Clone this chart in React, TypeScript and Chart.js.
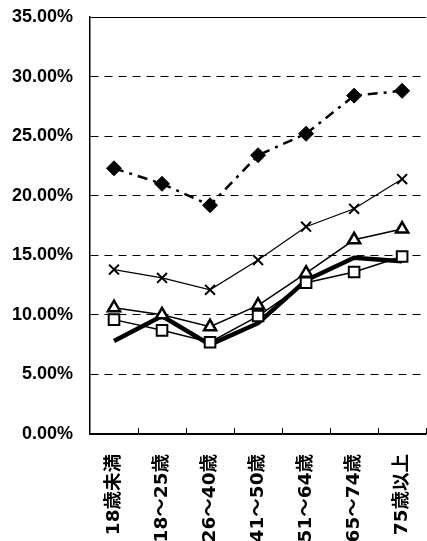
import React, { useEffect, useRef } from "react";
import { Chart, registerables } from "chart.js";

Chart.register(...registerables);

// Age groups along the x axis
const ageGroups = ["18歳未満", "18～25歳", "26～40歳", "41～50歳", "51～64歳", "65～74歳", "75歳以上"];

// Rates (%) per age group
const seriesDiamond = [22.3, 21.0, 19.2, 23.4, 25.2, 28.4, 28.8];
const seriesCross = [13.8, 13.1, 12.1, 14.6, 17.4, 18.9, 21.4];
const seriesTriangle = [10.6, 10.0, 9.0, 10.8, 13.5, 16.3, 17.2];
const seriesSquare = [9.6, 8.7, 7.7, 9.9, 12.7, 13.6, 14.9];
const seriesBold = [7.8, 9.9, 7.5, 9.3, 12.9, 14.8, 14.5];

// Y axis range and step
const yMin = 0;
const yMax = 35;
const yStep = 5;

const Y_FONT = "'Liberation Sans', Arial, sans-serif";
const X_FONT = "'DejaVu Sans', 'Noto Sans CJK JP', sans-serif";

// Short tick marks between categories, pointing up into the plot
const innerTicks = {
  id: "innerTicks",
  afterDraw(chart: any) {
    const x = chart.scales.x;
    const area = chart.chartArea;
    const ctx = chart.ctx;
    const n = ageGroups.length;
    const half = (x.getPixelForValue(1) - x.getPixelForValue(0)) / 2;
    ctx.save();
    ctx.strokeStyle = "#000";
    ctx.lineWidth = 1;
    ctx.beginPath();
    for (let i = 0; i < n; i++) {
      const px = Math.round(x.getPixelForValue(i) + half) + 0.5;
      ctx.moveTo(px, area.bottom);
      ctx.lineTo(px, area.bottom - 6);
    }
    ctx.stroke();
    ctx.restore();
  },
};

export default function App() {
  const ref = useRef<HTMLCanvasElement>(null);

  useEffect(() => {
    if (!ref.current) return;
    const chart = new Chart(ref.current, {
      type: "line",
      data: {
        labels: ageGroups,
        datasets: [
          {
            data: seriesDiamond,
            borderColor: "#000",
            backgroundColor: "#000",
            borderWidth: 2.5,
            borderDash: [10, 6, 3, 6],
            pointStyle: "rectRot",
            pointRadius: 7.5,
            pointBorderWidth: 1,
            pointBackgroundColor: "#000",
            tension: 0,
          },
          {
            data: seriesCross,
            borderColor: "#000",
            borderWidth: 1.2,
            pointStyle: "crossRot",
            pointRadius: 7,
            pointBorderWidth: 2,
            tension: 0,
          },
          {
            data: seriesTriangle,
            borderColor: "#000",
            borderWidth: 1.5,
            pointStyle: "triangle",
            pointRadius: 7,
            pointBorderWidth: 2.5,
            pointBackgroundColor: "#fff",
            tension: 0,
          },
          {
            data: seriesSquare,
            borderColor: "#000",
            borderWidth: 1.5,
            pointStyle: "rect",
            pointRadius: 7.5,
            pointBorderWidth: 2,
            pointBackgroundColor: "#fff",
            tension: 0,
          },
          {
            data: seriesBold,
            borderColor: "#000",
            borderWidth: 4.5,
            pointRadius: 0,
            tension: 0,
          },
        ],
      },
      options: {
        responsive: false,
        animation: false,
        layout: { padding: { top: 17, right: 8, left: 0, bottom: 0 } },
        plugins: {
          legend: { display: false },
          tooltip: { enabled: false },
        },
        scales: {
          x: {
            type: "category",
            offset: true,
            grid: { display: false, drawTicks: false },
            border: { display: true, color: "#000", width: 1.5 },
            ticks: {
              color: "#000",
              minRotation: 90,
              maxRotation: 90,
              autoSkip: false,
              padding: 20,
              font: { family: X_FONT, size: 18.5, weight: "bold" },
            },
            afterFit(scale: any) {
              scale.height = 107;
              scale.paddingTop = 0;
            },
          },
          y: {
            min: yMin,
            max: yMax,
            grid: {
              color: "#000",
              lineWidth: 1,
              drawTicks: false,
            },
            border: {
              display: true,
              color: "#000",
              width: 1.5,
              dash: (ctx: any) => (ctx.tick && ctx.tick.value !== yMax && ctx.tick.value !== yMin ? [8, 6] : []),
            },
            ticks: {
              stepSize: yStep,
              color: "#000",
              padding: 17,
              font: { family: Y_FONT, size: 18, weight: "bold" },
              callback: (v: any) => Number(v).toFixed(2) + "%",
            },
            afterFit(scale: any) {
              scale.width = 90;
              scale.paddingTop = 0;
              scale.paddingBottom = 0;
            },
          },
        },
      },
      plugins: [innerTicks],
    });
    return () => chart.destroy();
  }, []);

  return (
    <div
      style={{
        position: "absolute",
        left: 0,
        top: 0,
        width: 427,
        height: 541,
        overflow: "hidden",
        background: "#fff",
      }}
    >
      <canvas ref={ref} width={445} height={541} style={{ display: "block" }} />
    </div>
  );
}
